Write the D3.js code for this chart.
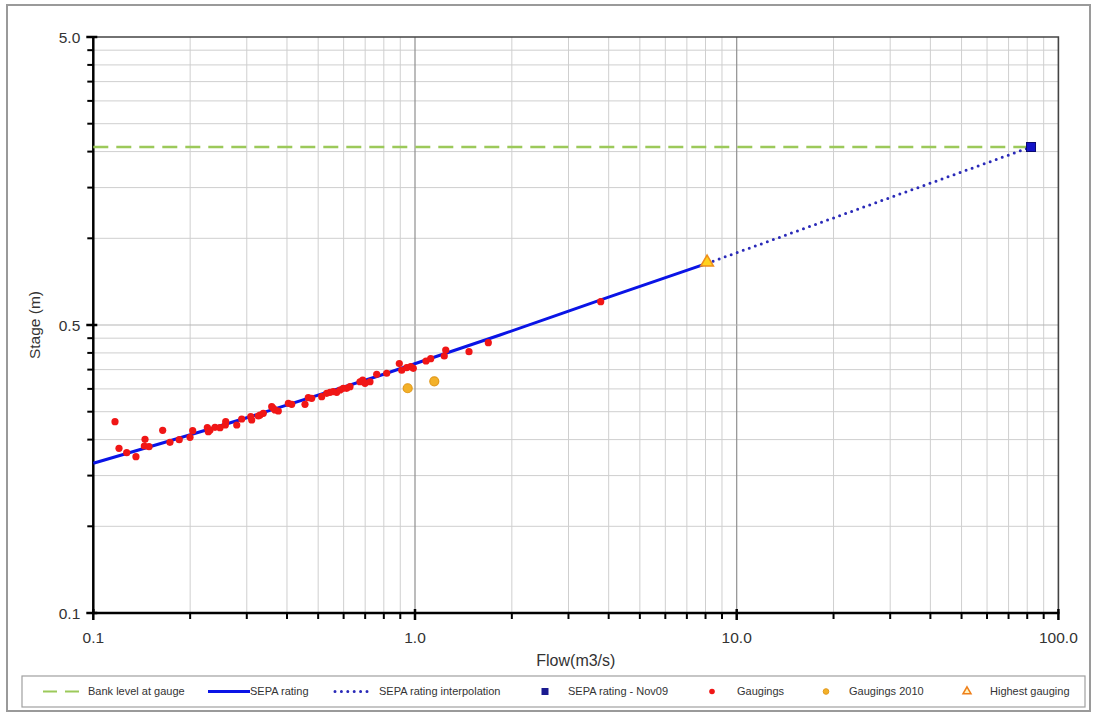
<!DOCTYPE html>
<html>
<head>
<meta charset="utf-8">
<script src="https://cdn.jsdelivr.net/npm/d3@7"></script>
<style>
  html, body { margin: 0; padding: 0; background: #fff; }
  svg { display: block; font-family: "Liberation Sans", Arial, sans-serif; }
</style>
</head>
<body>
<svg id="chart" width="1095" height="715"></svg>
<script>
// ---- data: flow (m3/s) vs stage ----
const bankLevel = 4.15;

// SEPA rating curve (flow, stage)
const ratingFlow  = [0.1, 0.307, 0.778, 1.837, 4.04, 8.09];
const ratingStage = [0.331, 0.480, 0.668, 0.923, 1.254, 1.637];

// extrapolated section up to the Nov09 rating point
const interpFlow  = [8.09, 82.2];
const interpStage = [1.637, 4.15];

const nov09Flow = [82.2];
const nov09Stage = [4.15];

const gaugingFlow = [
  0.1168, 0.1202, 0.1270, 0.1357, 0.1448, 0.1441, 0.1490, 0.1643, 0.1731, 0.1850,
  0.1998, 0.2037, 0.2262, 0.2278, 0.2306, 0.2390, 0.2477, 0.2580, 0.2573, 0.2792,
  0.2893, 0.3086, 0.3108, 0.3258, 0.3298, 0.3376, 0.3586, 0.3627, 0.3671, 0.3759,
  0.4040, 0.4138, 0.4550, 0.4659, 0.4774, 0.5129, 0.5315, 0.5443, 0.5571, 0.5709,
  0.5846, 0.5985, 0.6133, 0.6279, 0.6745, 0.6877, 0.6991, 0.7245, 0.7603, 0.8166,
  0.8937, 0.9094, 0.9423, 0.9696, 0.9878, 1.082, 1.119, 1.233, 1.246, 1.472,
  1.690, 3.778
];
const gaugingStage = [
  0.4615, 0.3731, 0.3603, 0.3489, 0.4010, 0.3801, 0.3779, 0.4309, 0.3915, 0.3997,
  0.4075, 0.4295, 0.4399, 0.4260, 0.4319, 0.4413, 0.4399, 0.4615, 0.4495, 0.4495,
  0.4716, 0.4804, 0.4678, 0.4831, 0.4870, 0.4936, 0.5203, 0.5137, 0.5068, 0.5027,
  0.5346, 0.5304, 0.5304, 0.5593, 0.5566, 0.5637, 0.5792, 0.5838, 0.5867, 0.5838,
  0.5947, 0.6029, 0.6029, 0.6107, 0.6353, 0.6442, 0.6275, 0.6353, 0.6743, 0.6798,
  0.7345, 0.6963, 0.7108, 0.7166, 0.7075, 0.7499, 0.7638, 0.7805, 0.8189, 0.8078,
  0.8679, 1.205
];

const gaugings2010Flow  = [0.949, 1.148];
const gaugings2010Stage = [0.603, 0.6375];

const highestFlow  = [8.09];
const highestStage = [1.637];

// axis ticks
const xMajorTicks  = [0.1, 1, 10, 100];
const xMajorLabels = ["0.1", "1.0", "10.0", "100.0"];
const yMajorTicks  = [0.1, 1, 10];
const yMajorLabels = ["0.1", "0.5", "5.0"];

const legendLabels = ["Bank level at gauge", "SEPA rating", "SEPA rating interpolation",
  "SEPA rating - Nov09", "Gaugings", "Gaugings 2010", "Highest gauging"];

// ---- layout ----
const svg = d3.select("#chart");
const L = 93.3, R = 1058.4, T = 37, B = 613;

const x = d3.scaleLog().domain([0.1, 100]).range([L, R]);
const y = d3.scaleLog().domain([0.1, 10]).range([B, T]);

function minorTicks(lo, hi) {
  const out = [];
  for (let d = lo; d < hi; d *= 10)
    for (let k = 2; k <= 9; k++) out.push(+(d * k).toPrecision(3));
  return out;
}
const xMinor = minorTicks(0.1, 100);
const yMinor = minorTicks(0.1, 10);

// outer frame
svg.append("rect").attr("x", 7).attr("y", 5).attr("width", 1083).attr("height", 706)
  .attr("fill", "#fff").attr("stroke", "#9a9a9a").attr("stroke-width", 2);

// gridlines
const grid = svg.append("g");
grid.selectAll(".vx").data(xMinor).join("line")
  .attr("x1", d => x(d)).attr("x2", d => x(d)).attr("y1", T).attr("y2", B)
  .attr("stroke", "#cfcfcf").attr("stroke-width", 1);
grid.selectAll(".hy").data(yMinor).join("line")
  .attr("y1", d => y(d)).attr("y2", d => y(d)).attr("x1", L).attr("x2", R)
  .attr("stroke", "#cfcfcf").attr("stroke-width", 1);
grid.selectAll(".vxm").data(xMajorTicks.slice(1, -1)).join("line")
  .attr("x1", d => x(d)).attr("x2", d => x(d)).attr("y1", T).attr("y2", B)
  .attr("stroke", "#8f8f8f").attr("stroke-width", 1.2);
grid.selectAll(".hym").data(yMajorTicks.slice(1, -1)).join("line")
  .attr("y1", d => y(d)).attr("y2", d => y(d)).attr("x1", L).attr("x2", R)
  .attr("stroke", "#b5b5b5").attr("stroke-width", 1);

// plot frame (top/right)
svg.append("path").attr("d", `M${L},${T}H${R}V${B}`)
  .attr("fill", "none").attr("stroke", "#444").attr("stroke-width", 1.6);

// axes
const axG = svg.append("g");
axG.append("line").attr("x1", L).attr("x2", L).attr("y1", T - 1).attr("y2", B + 1)
  .attr("stroke", "#000").attr("stroke-width", 2.5);
axG.append("line").attr("x1", L - 1).attr("x2", R + 1).attr("y1", B).attr("y2", B)
  .attr("stroke", "#000").attr("stroke-width", 2.5);

// minor tick marks
axG.selectAll(".ytm").data(yMinor).join("line")
  .attr("x1", L - 6).attr("x2", L).attr("y1", d => y(d)).attr("y2", d => y(d))
  .attr("stroke", "#000").attr("stroke-width", 2);
axG.selectAll(".xtm").data(xMinor).join("line")
  .attr("y1", B).attr("y2", B + 6).attr("x1", d => x(d)).attr("x2", d => x(d))
  .attr("stroke", "#000").attr("stroke-width", 2);
// major tick marks (crossing)
axG.selectAll(".ytM").data(yMajorTicks).join("line")
  .attr("x1", L - 7).attr("x2", L + 4).attr("y1", d => y(d)).attr("y2", d => y(d))
  .attr("stroke", "#000").attr("stroke-width", 2.5);
axG.selectAll(".xtM").data(xMajorTicks).join("line")
  .attr("y1", B - 4).attr("y2", B + 7).attr("x1", d => x(d)).attr("x2", d => x(d))
  .attr("stroke", "#000").attr("stroke-width", 2.5);

// tick labels
axG.selectAll(".yl").data(yMajorTicks).join("text")
  .attr("x", L - 13).attr("y", d => y(d)).attr("dy", "0.36em")
  .attr("text-anchor", "end").attr("font-size", 15.5).attr("fill", "#333")
  .text((d, i) => yMajorLabels[i]);
axG.selectAll(".xl").data(xMajorTicks).join("text")
  .attr("x", d => x(d)).attr("y", 643)
  .attr("text-anchor", "middle").attr("font-size", 15.5).attr("fill", "#333")
  .text((d, i) => xMajorLabels[i]);

// axis titles
svg.append("text").attr("x", (L + R) / 2 + 0).attr("y", 666)
  .attr("text-anchor", "middle").attr("font-size", 16).attr("fill", "#333")
  .text("Flow(m3/s)");
svg.append("text").attr("transform", "translate(40,325) rotate(-90)")
  .attr("text-anchor", "middle").attr("font-size", 15.5).attr("fill", "#333")
  .text("Stage (m)");

// ---- series ----
const plot = svg.append("g");

// bank level
plot.append("line")
  .attr("x1", x(0.1)).attr("x2", x(nov09Flow[0]))
  .attr("y1", y(bankLevel)).attr("y2", y(bankLevel))
  .attr("stroke", "#9cc95a").attr("stroke-width", 2.5).attr("stroke-dasharray", "15,8");

// rating curve
const ratingPts = ratingFlow.map((f, i) => [f, ratingStage[i]]);
const lineGen = d3.line().x(d => x(d[0])).y(d => y(d[1])).curve(d3.curveMonotoneX);
plot.append("path").datum(ratingPts).attr("d", lineGen)
  .attr("fill", "none").attr("stroke", "#0a14e6").attr("stroke-width", 3);

// interpolation (dotted)
const interpPts = interpFlow.map((f, i) => [f, interpStage[i]]);
plot.append("path").datum(interpPts).attr("d", d3.line().x(d => x(d[0])).y(d => y(d[1])))
  .attr("fill", "none").attr("stroke", "#2a2ab8").attr("stroke-width", 3)
  .attr("stroke-linecap", "round").attr("stroke-dasharray", "0,6.4");

// gaugings
plot.selectAll(".g").data(gaugingFlow.map((f, i) => [f, gaugingStage[i]])).join("circle")
  .attr("cx", d => x(d[0])).attr("cy", d => y(d[1])).attr("r", 3.6)
  .attr("fill", "#f01616");

// gaugings 2010
plot.selectAll(".g10").data(gaugings2010Flow.map((f, i) => [f, gaugings2010Stage[i]])).join("circle")
  .attr("cx", d => x(d[0])).attr("cy", d => y(d[1])).attr("r", 4.5)
  .attr("fill", "#f3b129").attr("stroke", "#e39a1c").attr("stroke-width", 1.2);

// highest gauging
const tri = d3.symbol().type(d3.symbolTriangle).size(70);
plot.selectAll(".hg").data(highestFlow.map((f, i) => [f, highestStage[i]])).join("path")
  .attr("d", tri).attr("transform", d => `translate(${x(d[0])},${y(d[1]) - 1})`)
  .attr("fill", "#ffd21e").attr("stroke", "#ef8f1a").attr("stroke-width", 1.5);

// Nov09 rating point
plot.selectAll(".nv").data(nov09Flow.map((f, i) => [f, nov09Stage[i]])).join("rect")
  .attr("x", d => x(d[0]) - 4.5).attr("y", d => y(d[1]) - 4.5)
  .attr("width", 9).attr("height", 9)
  .attr("fill", "#1414c8").attr("stroke", "#0a0a70").attr("stroke-width", 1);

// ---- legend ----
const lg = svg.append("g");
lg.append("rect").attr("x", 22).attr("y", 676).attr("width", 1063).attr("height", 31)
  .attr("fill", "#fff").attr("stroke", "#a0a0a0").attr("stroke-width", 1.2);
const ly = 691.5;
const textX = [88, 250, 379, 568, 737, 849, 990];
lg.selectAll(".lt").data(legendLabels).join("text")
  .attr("x", (d, i) => textX[i]).attr("y", ly).attr("dy", "0.35em")
  .attr("font-size", 11).attr("fill", "#333").text(d => d);

lg.append("line").attr("x1", 43).attr("x2", 87).attr("y1", ly).attr("y2", ly)
  .attr("stroke", "#9cc95a").attr("stroke-width", 2).attr("stroke-dasharray", "14,8");
lg.append("line").attr("x1", 208).attr("x2", 250).attr("y1", ly).attr("y2", ly)
  .attr("stroke", "#0a14e6").attr("stroke-width", 3);
lg.append("line").attr("x1", 335).attr("x2", 368).attr("y1", ly).attr("y2", ly)
  .attr("stroke", "#2a2ab8").attr("stroke-width", 3)
  .attr("stroke-linecap", "round").attr("stroke-dasharray", "0,6.4");
lg.append("rect").attr("x", 541.5).attr("y", ly - 3.5).attr("width", 7).attr("height", 7)
  .attr("fill", "#1a1a90");
lg.append("circle").attr("cx", 712).attr("cy", ly).attr("r", 2.8).attr("fill", "#f01616");
lg.append("circle").attr("cx", 826).attr("cy", ly).attr("r", 2.8)
  .attr("fill", "#f3b129").attr("stroke", "#e39a1c").attr("stroke-width", 1);
lg.append("path").attr("d", d3.symbol().type(d3.symbolTriangle).size(28))
  .attr("transform", `translate(967,${ly})`)
  .attr("fill", "#fff3c0").attr("stroke", "#ef7f1a").attr("stroke-width", 1.5);
</script>
</body>
</html>
